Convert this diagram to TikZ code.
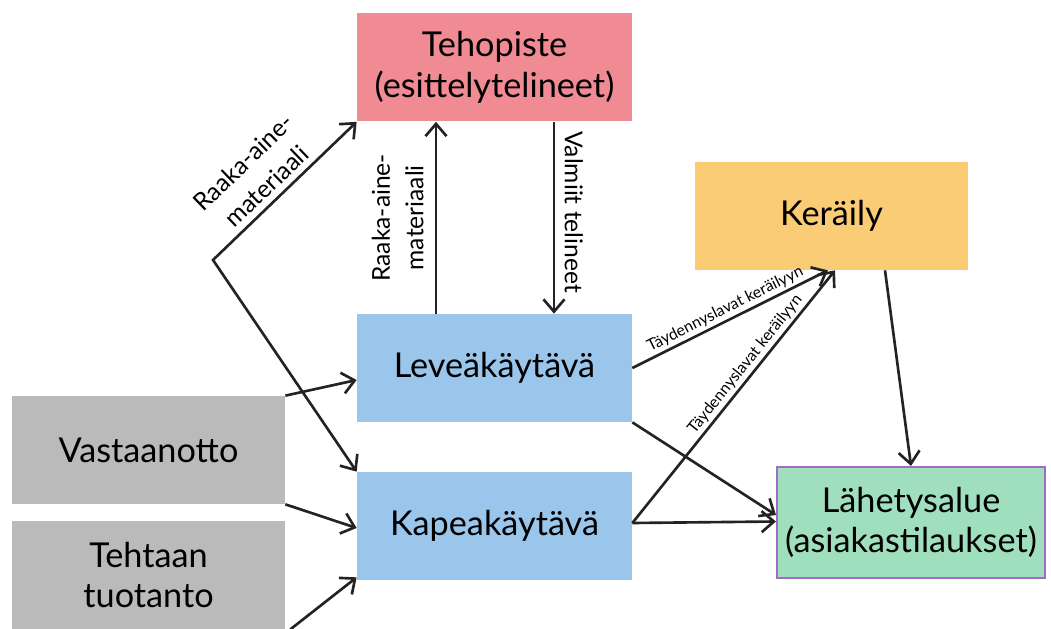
\documentclass[tikz,border=0pt]{standalone}
\usepackage{fontspec}
\setmainfont{Lato}
\usetikzlibrary{arrows.meta}

\definecolor{tehopink}{HTML}{F08A93}
\definecolor{keryellow}{HTML}{FBCC76}
\definecolor{aisleblue}{HTML}{9AC6EC}
\definecolor{recgray}{HTML}{BABABA}
\definecolor{shipgreen}{HTML}{A0DFBE}
\definecolor{shipborder}{HTML}{A06CC8}
\definecolor{arrowgray}{HTML}{232323}

\tikzset{
	box/.style={rectangle, inner sep=0pt, minimum width=5.5cm, minimum height=2.16cm, align=center, font=\fontsize{19.5}{23}\selectfont},
	flow/.style={line width=1.5pt, draw=arrowgray, ->},
	lbl/.style={font=\fontsize{14}{19}\selectfont, align=center},
	tinylbl/.style={font=\fontsize{9}{11}\selectfont, inner sep=1.5pt}
}

\begin{document}
\begin{tikzpicture}[>={Straight Barb[length=7pt,width=12pt]}]
		\useasboundingbox (0,0) rectangle (21.02,12.56);

		\node (teho)[box, fill=tehopink]at (9.89,11.21)  {Tehopiste\\(esittelytelineet)};
		\node (ker)[box, fill=keryellow, minimum width=5.46cm]at (16.63,8.24)  {Keräily};
		\node (leve)[box, fill=aisleblue]at (9.89,5.2)  {Leveäkäytävä};
		\node (kapea)[box, fill=aisleblue]at (9.89,2.04)  {Kapeakäytävä};
		\node (vast)[box, fill=recgray, minimum width=5.46cm]at (2.97,3.56)  {Vastaanotto};
		\node (teht)[box, fill=recgray, minimum width=5.46cm]at (2.97,1.06)  {Tehtaan\\tuotanto};
		\node (lah)[box, fill=shipgreen, draw=shipborder, line width=1.2pt, minimum width=5.36cm, minimum height=2.22cm]at (18.22,2.11)  {Lähetysalue\\(asiakastilaukset)};
		\coordinate (bend) at (4.26,7.36);

		\draw [flow](vast.north east)--([yshift=-0.24cm]leve.west);
		\draw [flow](vast.south east)--([yshift=-0.04cm]kapea.west);
		\draw [flow]([xshift=0.1cm]teht.south east)--([yshift=0.06cm]kapea.south west);
		\draw [flow, <->](teho.south west)--(bend) node[lbl, sloped, above, pos=0.55]{Raaka-aine-\\materiaali} --(kapea.north west);
		\draw [flow]([xshift=-1.17cm]leve.north)--([xshift=-1.17cm]teho.south) node[lbl, sloped, above=3pt, midway]{Raaka-aine-\\materiaali};
		\draw [flow]([xshift=1.19cm]teho.south)--([xshift=1.19cm]leve.north) node[lbl, sloped, above=2pt, pos=0.47]{Valmiit telineet};
		\draw [flow](leve.east)--([xshift=-0.07cm]ker.south) node[tinylbl, sloped, above, midway]{Täydennyslavat keräilyyn};
		\draw [flow]([yshift=0.06cm]kapea.east)--([xshift=0.07cm]ker.south) node[tinylbl, sloped, above, pos=0.6]{Täydennyslavat keräilyyn};
		\draw [flow](leve.south east)--([yshift=0.15cm]lah.west);
		\draw [flow]([yshift=0.06cm]kapea.east)--([yshift=0.02cm]lah.west);
		\draw [flow]([xshift=1.07cm]ker.south)--(lah.north);
	\end{tikzpicture}
\end{document}
